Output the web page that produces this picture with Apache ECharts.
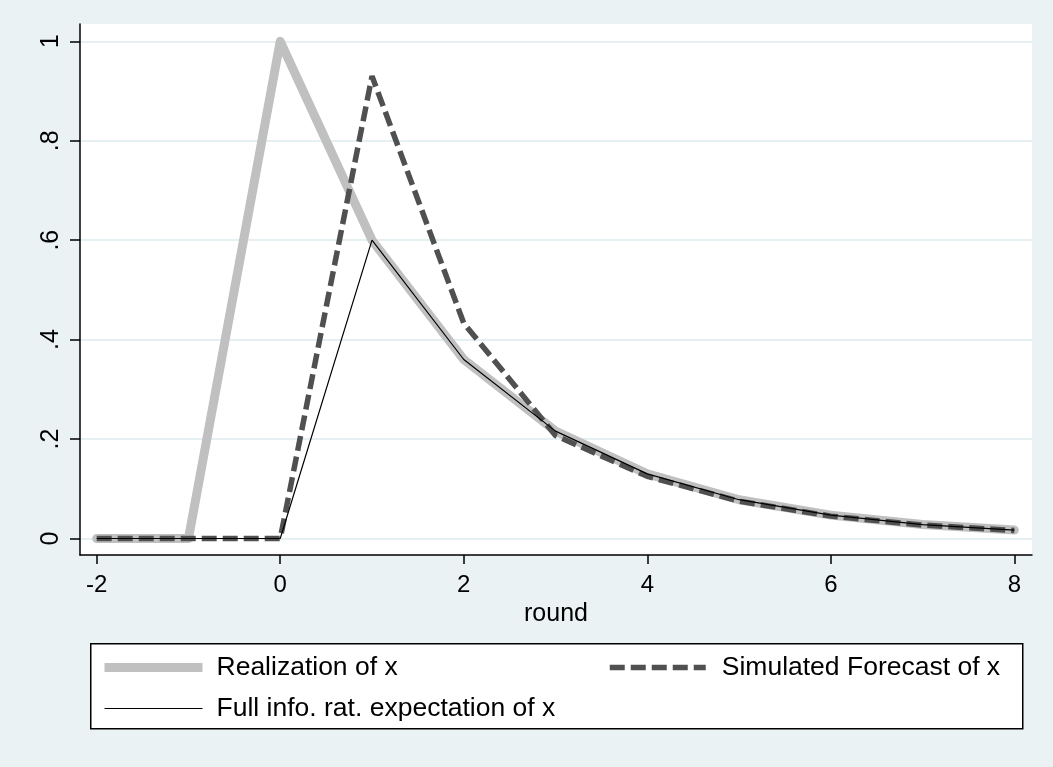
<!DOCTYPE html>
<html>
<head>
<meta charset="utf-8">
<script src="https://cdn.jsdelivr.net/npm/echarts@6/dist/echarts.min.js"></script>
<style>
html,body{margin:0;padding:0;background:#EAF2F3;}
#chart{width:1053px;height:767px;}
</style>
</head>
<body>
<div id="chart"></div>
<script>
const rounds = [-2, -1, 0, 1, 2, 3, 4, 5, 6, 7, 8];
const realization = [0, 0, 1, 0.6, 0.36, 0.216, 0.13, 0.078, 0.047, 0.028, 0.017];
const forecast = [0, 0, 0, 0.93, 0.433, 0.207, 0.125, 0.075, 0.045, 0.027, 0.016];
const fullInfo = [0, 0, 0, 0.6, 0.36, 0.216, 0.13, 0.078, 0.047, 0.028, 0.017];
const xTicks = [-2, 0, 2, 4, 6, 8];
const yTicks = [0, 0.2, 0.4, 0.6, 0.8, 1];
const seriesNames = ['Realization of x', 'Simulated Forecast of x', 'Full info. rat. expectation of x'];
const xTitle = 'round';

function pairs(ys) { return rounds.map((x, i) => [x, ys[i]]); }
function fmtY(v) {
  if (v === 0) return '0';
  if (v === 1) return '1';
  return String(v).replace(/^0/, '');
}

const FONT = '"Liberation Sans", Arial, Helvetica, sans-serif';
const hideSymbol = {opacity: 0, color: 'rgba(0,0,0,0)', borderWidth: 0};
const chart = echarts.init(document.getElementById('chart'), null, {renderer: 'canvas'});
chart.setOption({
  backgroundColor: '#EAF2F3',
  animation: false,
  textStyle: {fontFamily: FONT, color: '#000'},
  grid: {
    left: 80, right: 21, top: 24, bottom: 212,
    show: true, backgroundColor: '#FFFFFF', borderWidth: 0
  },
  xAxis: {
    type: 'value',
    min: -2.182, max: 8.192,
    name: xTitle,
    nameLocation: 'middle',
    nameGap: 47,
    nameTextStyle: {fontSize: 25, color: '#000', fontFamily: FONT},
    axisLine: {show: true, onZero: false, lineStyle: {color: '#000', width: 1.5}},
    axisTick: {show: true, length: 9, customValues: xTicks, lineStyle: {color: '#000', width: 1.5}},
    axisLabel: {customValues: xTicks, fontSize: 24, color: '#000', margin: 18, fontFamily: FONT},
    splitLine: {show: false}
  },
  yAxis: {
    type: 'value',
    min: -0.0332, max: 1.0348,
    axisLine: {show: true, onZero: false, lineStyle: {color: '#000', width: 1.5}},
    axisTick: {show: true, length: 10, customValues: yTicks, lineStyle: {color: '#000', width: 1.5}},
    axisLabel: {customValues: yTicks, rotate: 90, fontSize: 25, color: '#000', margin: 16,
      fontFamily: FONT, formatter: fmtY},
    splitLine: {show: true, lineStyle: {color: '#E6EFF1', width: 2}}
  },
  legend: [
    {
      orient: 'vertical', left: 100, top: 654, padding: 0,
      itemWidth: 98, itemHeight: 14, itemGap: 14,
      selectedMode: false,
      textStyle: {fontSize: 26.5, color: '#000', fontFamily: FONT, padding: [0, 0, 0, 9]},
      data: [
        {name: seriesNames[0], itemStyle: hideSymbol, lineStyle: {width: 9, cap: 'butt', color: '#C0C0C0'}},
        {name: seriesNames[2], itemStyle: hideSymbol, lineStyle: {width: 1.2, color: '#000'}}
      ]
    },
    {
      orient: 'vertical', left: 607, top: 654, padding: 0,
      itemWidth: 96, itemHeight: 14, itemGap: 14,
      selectedMode: false,
      textStyle: {fontSize: 26.5, color: '#000', fontFamily: FONT, padding: [0, 0, 0, 11]},
      data: [
        {name: seriesNames[1], itemStyle: hideSymbol, lineStyle: {width: 5.5, type: [15, 6], cap: 'butt', color: '#505050'}}
      ]
    }
  ],
  graphic: [
    {
      type: 'rect', left: 90, top: 643, z: -1, silent: true,
      shape: {width: 932, height: 85},
      style: {fill: '#FFFFFF', stroke: '#000', lineWidth: 1.5}
    }
  ],
  series: [
    {
      name: seriesNames[0], type: 'line', data: pairs(realization),
      symbol: 'none', z: 2,
      lineStyle: {color: '#C0C0C0', width: 9, cap: 'round', join: 'round'},
      itemStyle: {color: '#C0C0C0'}
    },
    {
      name: seriesNames[1], type: 'line', data: pairs(forecast),
      symbol: 'none', z: 3,
      lineStyle: {color: '#505050', width: 5.5, type: [15, 6]},
      itemStyle: {color: '#505050'}
    },
    {
      name: seriesNames[2], type: 'line', data: pairs(fullInfo),
      symbol: 'none', z: 4,
      lineStyle: {color: '#000', width: 1.2},
      itemStyle: {color: '#000'}
    }
  ]
});
</script>
</body>
</html>
